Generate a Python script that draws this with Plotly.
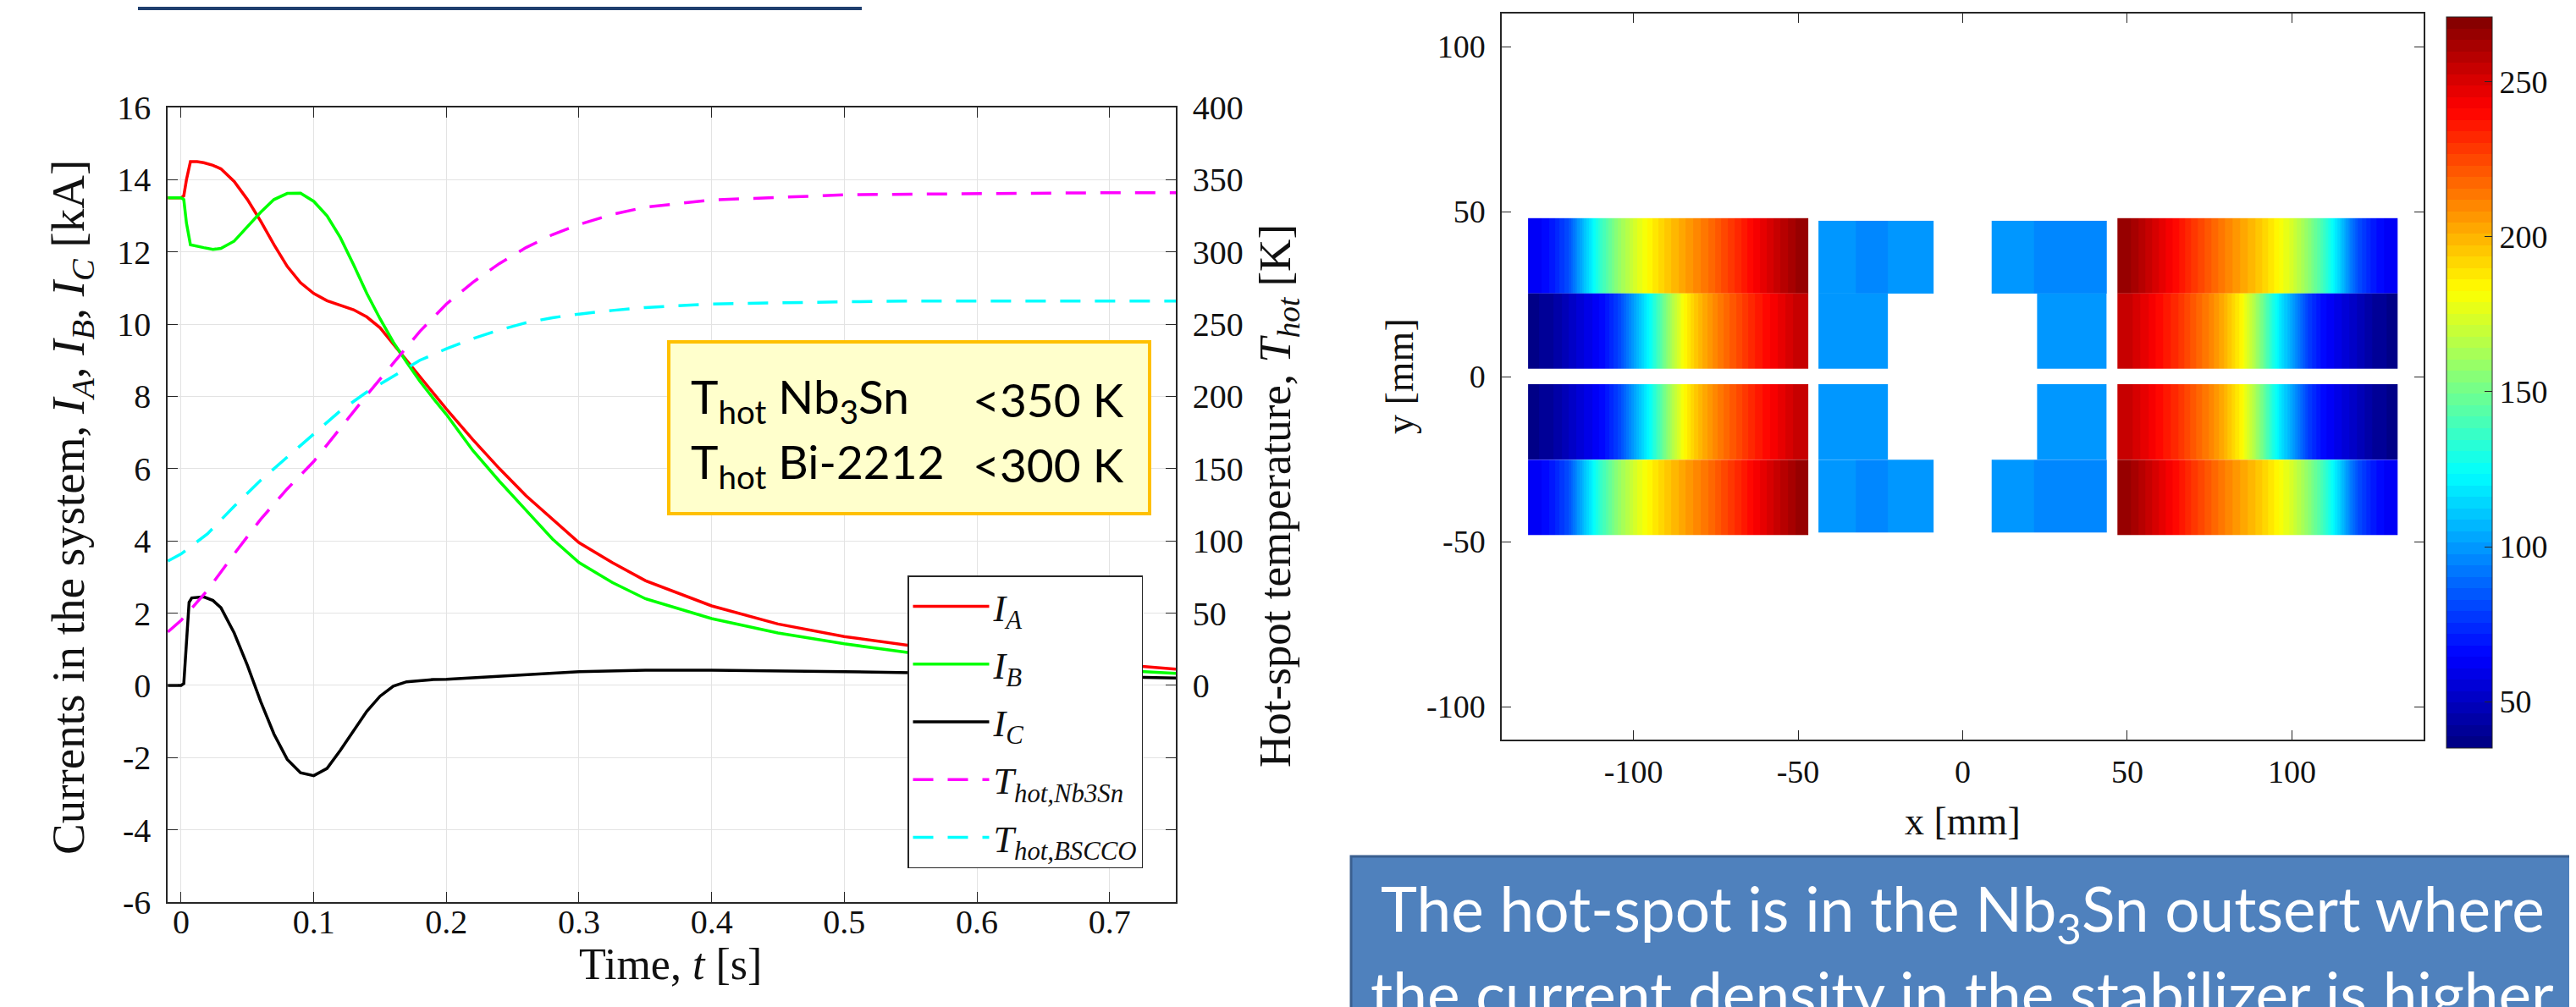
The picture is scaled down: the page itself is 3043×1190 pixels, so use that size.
import plotly.graph_objects as go

W, H = 3043, 1190

# ---------------- left chart data ----------------
t_A = [-0.01, 0.0, 0.002, 0.004, 0.007, 0.012, 0.017, 0.024, 0.03, 0.04, 0.05, 0.06, 0.07, 0.08, 0.09,
       0.1, 0.11, 0.12, 0.13, 0.14, 0.15, 0.16, 0.17, 0.18, 0.19, 0.2, 0.22, 0.24, 0.26, 0.28, 0.3,
       0.325, 0.35, 0.4, 0.45, 0.5, 0.55, 0.6, 0.65, 0.7, 0.75]
I_A = [13.5, 13.5, 13.55, 14.0, 14.5, 14.5, 14.47, 14.4, 14.3, 13.95, 13.45, 12.85, 12.2, 11.6, 11.15,
       10.85, 10.65, 10.52, 10.4, 10.2, 9.9, 9.45, 9.0, 8.55, 8.1, 7.65, 6.8, 6.0, 5.25, 4.6, 3.95,
       3.4, 2.9, 2.2, 1.7, 1.35, 1.1, 0.9, 0.75, 0.6, 0.45]

t_B = t_A
I_B = [13.5, 13.5, 13.45, 12.8, 12.2, 12.15, 12.12, 12.07, 12.1, 12.3, 12.7, 13.1, 13.45, 13.62, 13.63,
       13.4, 13.0, 12.4, 11.65, 10.85, 10.15, 9.5, 8.95, 8.42, 7.95, 7.5, 6.5, 5.65, 4.85, 4.05, 3.4,
       2.85, 2.4, 1.85, 1.45, 1.15, 0.9, 0.72, 0.55, 0.43, 0.33]

t_C = [-0.01, 0.0, 0.002, 0.004, 0.006, 0.008, 0.017, 0.024, 0.03, 0.04, 0.05, 0.06, 0.07, 0.08, 0.09,
       0.1, 0.11, 0.12, 0.13, 0.14, 0.15, 0.16, 0.17, 0.18, 0.19, 0.2, 0.25, 0.3, 0.35, 0.4, 0.5, 0.6, 0.75]
I_C = [0.0, 0.0, 0.05, 1.2, 2.3, 2.42, 2.45, 2.35, 2.15, 1.45, 0.55, -0.45, -1.35, -2.05, -2.42,
       -2.5, -2.3, -1.8, -1.25, -0.72, -0.3, -0.02, 0.1, 0.14, 0.16, 0.17, 0.27, 0.38, 0.42, 0.42, 0.38, 0.32, 0.2]

t_T = [-0.01, 0.0, 0.02, 0.04, 0.06, 0.08, 0.1, 0.12, 0.14, 0.16, 0.18, 0.2, 0.22, 0.24, 0.26, 0.28,
       0.3, 0.325, 0.35, 0.4, 0.45, 0.5, 0.55, 0.6, 0.65, 0.7, 0.75]
T_Nb3Sn = [37, 45, 66, 91, 115, 136, 155, 178, 201, 223, 245, 264, 279, 292, 303, 312,
           319, 326, 331, 336, 338, 339.5, 340, 340.5, 341, 341, 341]
T_BSCCO = [86, 91, 105, 124, 142, 158, 174, 190, 203, 214, 225, 233, 240, 246, 251, 254.5,
           257, 259.5, 261.5, 264, 265, 265.5, 266, 266, 266, 266, 266]

x_ticks_left = [0, 0.1, 0.2, 0.3, 0.4, 0.5, 0.6, 0.7]
x_ticktext_left = ["0", "0.1", "0.2", "0.3", "0.4", "0.5", "0.6", "0.7"]
y_ticks_left = [-6, -4, -2, 0, 2, 4, 6, 8, 10, 12, 14, 16]
y_ticktext_left = ["-6", "-4", "-2", "0", "2", "4", "6", "8", "10", "12", "14", "16"]
y2_ticks = [-150, -100, -50, 0, 50, 100, 150, 200, 250, 300, 350, 400]
y2_ticktext = ["", "", "", "0", "50", "100", "150", "200", "250", "300", "350", "400"]

# ---------------- right chart data (temperature map, K) ----------------
outer_x_edges_left = [-132, -127, -122, -117, -112, -107, -102, -97, -92, -87, -82, -77, -72, -67, -62, -57, -52, -47]
outer_x_edges_right = [47, 52, 57, 62, 67, 72, 77, 82, 87, 92, 97, 102, 107, 112, 117, 122, 127, 132]
# profile from outer (cold) edge to inner (hot) edge, row |y| in 25..48
T_outer_row = [62, 70, 84, 112, 138, 158, 174, 186, 196, 204, 212, 221, 230, 240, 249, 258, 266]
# row |y| in 2..25
T_inner_row = [38, 42, 50, 58, 66, 80, 104, 128, 158, 184, 200, 212, 222, 232, 240, 248, 256]

row_outer_top = [25.2, 36.6, 48.0]
row_inner_top = [2.3, 13.75, 25.2]
row_inner_bot = [-25.2, -13.75, -2.3]
row_outer_bot = [-48.0, -36.6, -25.2]

insert_top_x_left = [-43.8, -32.5, -27.0, -22.6, -8.8]
insert_top_T_left = [99, 94, 97, 101]
insert_top_x_right = [8.8, 21.6, 26.5, 32.0, 43.8]
insert_top_T_right = [101, 97, 94, 97]
insert_low_x_left = [-43.8, -22.6]
insert_low_x_right = [22.6, 43.8]
insert_low_T = [98]
insert_row_top = [25.2, 47.2]
insert_row_mid = [2.3, 25.2]
insert_row_midb = [-25.2, -2.3]
insert_row_bot = [-47.2, -25.2]

map_ticks = [-100, -50, 0, 50, 100]
map_ticktext = ["-100", "-50", "0", "50", "100"]
cbar_ticks = [50, 100, 150, 200, 250]
T_min, T_max = 35, 271


def jet_rgb(f):
    def c(v):
        return max(0.0, min(1.0, v))
    return (c(1.5 - abs(4 * f - 3)), c(1.5 - abs(4 * f - 2)), c(1.5 - abs(4 * f - 1)))


jet_scale = []
N = 64
for i in range(N):
    r, g, b = jet_rgb((i + 0.5) / N)
    col = f"rgb({int(r*255)},{int(g*255)},{int(b*255)})"
    jet_scale.append([i / N, col])
    jet_scale.append([(i + 1) / N, col])

SERIF = "Liberation Serif"
AX = "#262626"

fig = go.Figure()

# ---------------- left chart traces ----------------
sub = lambda base, s: f"<i>{base}</i><sub><i>{s}</i></sub>"
fig.add_trace(go.Scatter(x=t_A, y=I_A, mode="lines", line=dict(color="#FF0000", width=3.5),
                         name=sub("I", "A"), legendgroup="a", xaxis="x", yaxis="y"))
fig.add_trace(go.Scatter(x=t_B, y=I_B, mode="lines", line=dict(color="#00FF00", width=3.5),
                         name=sub("I", "B"), legendgroup="b", xaxis="x", yaxis="y"))
fig.add_trace(go.Scatter(x=t_C, y=I_C, mode="lines", line=dict(color="#000000", width=3.5),
                         name=sub("I", "C"), legendgroup="c", xaxis="x", yaxis="y"))
fig.add_trace(go.Scatter(x=t_T, y=T_Nb3Sn, mode="lines", line=dict(color="#FF00FF", width=3.5, dash="24px,17px"),
                         name=sub("T", "hot,Nb3Sn"), legendgroup="d", xaxis="x", yaxis="y2"))
fig.add_trace(go.Scatter(x=t_T, y=T_BSCCO, mode="lines", line=dict(color="#00FFFF", width=3.5, dash="24px,17px"),
                         name=sub("T", "hot,BSCCO"), legendgroup="e", xaxis="x", yaxis="y2"))

# ---------------- right chart traces ----------------
def hm(x, y, z, smooth):
    fig.add_trace(go.Heatmap(x=x, y=y, z=z, coloraxis="coloraxis", zsmooth=smooth,
                             xaxis="x2", yaxis="y3", showscale=False, hoverinfo="skip"))

for rows, prof in [(row_outer_top, T_outer_row), (row_inner_top, T_inner_row),
                   (row_inner_bot, T_inner_row), (row_outer_bot, T_outer_row)]:
    hm(outer_x_edges_left, rows, [prof, prof], "best")
    rev = prof[::-1]
    hm(outer_x_edges_right, rows, [rev, rev], "best")

hm(insert_top_x_left, insert_row_top, [insert_top_T_left], False)
hm(insert_top_x_left, insert_row_bot, [insert_top_T_left], False)
hm(insert_top_x_right, insert_row_top, [insert_top_T_right], False)
hm(insert_top_x_right, insert_row_bot, [insert_top_T_right], False)
hm(insert_low_x_left, insert_row_mid, [insert_low_T], False)
hm(insert_low_x_left, insert_row_midb, [insert_low_T], False)
hm(insert_low_x_right, insert_row_mid, [insert_low_T], False)
hm(insert_low_x_right, insert_row_midb, [insert_low_T], False)

tickfont = dict(family=SERIF, size=40, color="#111111")
mapfont = dict(family=SERIF, size=38, color="#111111")

# right map plot area (pixels)
MX0, MX1, MY0, MY1 = 1766, 2855, 8, 866

fig.update_layout(
    width=W, height=H, autosize=False,
    margin=dict(l=0, r=0, t=0, b=0, pad=0, autoexpand=False),
    paper_bgcolor="white", plot_bgcolor="white",
    showlegend=True,
    legend=dict(x=1064 / W, y=1 - 672 / H, xanchor="left", yanchor="top",
                bgcolor="white", bordercolor=AX, borderwidth=1.5,
                font=dict(family=SERIF, size=44, color="#111111"),
                tracegroupgap=8, itemwidth=90),
    xaxis=dict(domain=[190 / W, 1381 / W], range=[-0.0102, 0.75], anchor="y",
               tickvals=x_ticks_left, ticktext=x_ticktext_left, tickfont=tickfont,
               ticks="inside", ticklen=12, tickcolor=AX, showline=True, linecolor=AX, linewidth=1.5,
               mirror="ticks", showgrid=True, gridcolor="#E3E3E3", gridwidth=1, zeroline=False,
               ticklabelstandoff=-13, automargin=False),
    yaxis=dict(domain=[1 - 1058 / H, 1 - 119 / H], range=[-6, 16], anchor="x",
               tickvals=y_ticks_left, ticktext=y_ticktext_left, tickfont=tickfont,
               ticks="inside", ticklen=12, tickcolor=AX, showline=True, linecolor=AX, linewidth=1.5,
               showgrid=True, gridcolor="#E3E3E3", gridwidth=1, zeroline=False, ticklabelstandoff=10,
               automargin=False),
    yaxis2=dict(overlaying="y", side="right", anchor="x", range=[-150, 400],
                tickvals=y2_ticks, ticktext=y2_ticktext, tickfont=tickfont,
                ticks="inside", ticklen=12, tickcolor=AX, showline=True, linecolor=AX, linewidth=1.5,
                showgrid=False, zeroline=False, ticklabelstandoff=10, automargin=False),
    xaxis2=dict(domain=[MX0 / W, MX1 / W], range=[-140, 140], anchor="y3",
                tickvals=map_ticks, ticktext=map_ticktext, tickfont=mapfont,
                ticks="inside", ticklen=11, tickcolor=AX, showline=True, linecolor=AX, linewidth=1.5,
                mirror="ticks", showgrid=False, zeroline=False, ticklabelstandoff=4, automargin=False),
    yaxis3=dict(domain=[1 - MY1 / H, 1 - MY0 / H], range=[-110, 110], anchor="x2",
                tickvals=map_ticks, ticktext=map_ticktext, tickfont=mapfont,
                ticks="inside", ticklen=11, tickcolor=AX, showline=True, linecolor=AX, linewidth=1.5,
                mirror="ticks", showgrid=False, zeroline=False, ticklabelstandoff=10, automargin=False),
    coloraxis=dict(colorscale=jet_scale, cmin=T_min, cmax=T_max,
                   colorbar=dict(x=2882 / W, xanchor="left", xpad=0, ypad=0,
                                 y=1 - 444 / H, yanchor="middle", len=864 / H, lenmode="fraction",
                                 thickness=54, thicknessmode="pixels",
                                 outlinewidth=1, outlinecolor=AX,
                                 tickvals=cbar_ticks, ticks="inside", ticklen=9, tickcolor=AX,
                                 tickfont=dict(family=SERIF, size=38, color="#111111"))),
)

shapes = []
# yellow note box
shapes.append(dict(type="rect", xref="paper", yref="paper", x0=782 / W, x1=1350 / W,
                   y0=1 - 599 / H, y1=1 - 396 / H, fillcolor="#FFFFCC",
                   line=dict(color="#FFC000", width=4), layer="above"))
# blue conclusion box
shapes.append(dict(type="rect", xref="paper", yref="paper", x0=1588 / W, x1=3040 / W,
                   y0=-0.05, y1=1 - 1004 / H, fillcolor="#4F81BD",
                   line=dict(color="#3A5F8F", width=3), layer="above"))
# title underline bar top-left
shapes.append(dict(type="rect", xref="paper", yref="paper", x0=155 / W, x1=1010 / W,
                   y0=1 - 4 / H, y1=1.0, fillcolor="#1F3F6E", line=dict(width=0), layer="above"))
fig.update_layout(shapes=shapes)

ann = []
def A(text, x, y, size, family=SERIF, color="#111111", angle=0, xanchor="center", yanchor="middle"):
    ann.append(dict(text=text, x=x / W, y=1 - y / H, xref="paper", yref="paper", showarrow=False,
                    textangle=angle, xanchor=xanchor, yanchor=yanchor,
                    font=dict(family=family, size=size, color=color)))

A("Currents in the system, " + sub("I", "A") + ", " + sub("I", "B") + ", " + sub("I", "C") + " [kA]",
  76, 592, 55, angle=-90)
A("Hot-spot temperature, " + sub("T", "hot") + " [K]", 1502, 578, 53, angle=-90)
A("Time, <i>t</i> [s]", 784, 1131, 52)
A("y [mm]", 1645, 437, 46, angle=-90)
A("x [mm]", 2310, 962, 46)
A("Temperature [K]", 3034, 444, 44, angle=-90, xanchor="left")

LATO = "Lato"
A("T<sub>hot</sub> Nb<sub>3</sub>Sn", 806, 464, 55, family=LATO, color="#000000", xanchor="left")
A("T<sub>hot</sub> Bi-2212", 806, 541, 55, family=LATO, color="#000000", xanchor="left")
A("&lt;350 K", 1322, 464, 55, family=LATO, color="#000000", xanchor="right")
A("&lt;300 K", 1322, 541, 55, family=LATO, color="#000000", xanchor="right")

A("The hot-spot is in the Nb<sub>3</sub>Sn outsert where", 2310, 1070, 73, family=LATO, color="white")
A("the current density in the stabilizer is higher", 2310, 1166, 73, family=LATO, color="white")

fig.update_layout(annotations=ann)

fig.write_html("out.html")
